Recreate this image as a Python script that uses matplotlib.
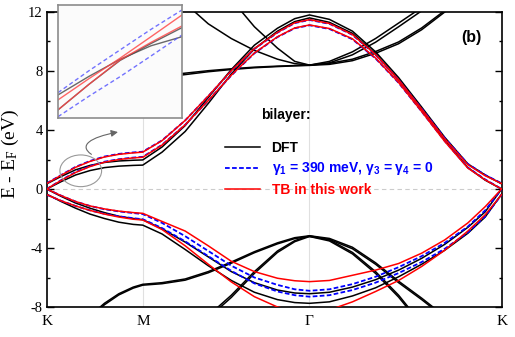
import matplotlib
matplotlib.use("Agg")
import matplotlib.pyplot as plt
from matplotlib.patches import Ellipse, FancyArrowPatch
from matplotlib.path import Path
from matplotlib.ticker import MultipleLocator

plt.rcParams["axes.unicode_minus"] = False
plt.rcParams["mathtext.fontset"] = "custom"
plt.rcParams["mathtext.rm"] = "Liberation Serif"
plt.rcParams["mathtext.it"] = "Liberation Serif:italic"
plt.rcParams["mathtext.bf"] = "Liberation Sans:bold"

# high symmetry points along K-M-Gamma-K (path length units)
k_K1, k_M, k_G, k_K2 = 0.0, 0.3333, 0.9107, 1.5774
sym_labels = ["K", "M", "Γ", "K"]

# common k grid for the pi bands
k_grid = [0.000, 0.050, 0.100, 0.150, 0.200, 0.250, 0.300, 0.333, 0.400, 0.480, 0.560, 0.640,
          0.720, 0.800, 0.860, 0.911, 0.980, 1.060, 1.140, 1.220, 1.300, 1.380, 1.460, 1.520, 1.577]

# pi* (conduction)
dft_c1 = [0.00, 0.50, 0.95, 1.25, 1.45, 1.55, 1.60, 1.62, 2.50, 3.90, 5.80, 7.80,
          9.50, 10.70, 11.35, 11.60, 11.30, 10.55, 9.15, 7.40, 5.40, 3.30, 1.45, 0.60, 0.00]
dft_c2 = [0.35, 0.85, 1.30, 1.60, 1.80, 1.90, 1.95, 1.97, 2.85, 4.30, 6.20, 8.10,
          9.75, 10.90, 11.55, 11.80, 11.50, 10.70, 9.30, 7.55, 5.55, 3.50, 1.70, 0.95, 0.35]
gam_c1 = [0.00, 0.60, 1.15, 1.55, 1.85, 2.02, 2.13, 2.18, 3.00, 4.35, 6.00, 7.70,
          9.20, 10.30, 10.90, 11.10, 10.85, 10.15, 8.85, 7.20, 5.25, 3.25, 1.45, 0.65, 0.00]
gam_c2 = [0.39, 0.95, 1.50, 1.90, 2.20, 2.38, 2.48, 2.53, 3.30, 4.65, 6.30, 8.00,
          9.50, 10.60, 11.25, 11.46, 11.20, 10.45, 9.10, 7.40, 5.45, 3.45, 1.70, 0.95, 0.39]
tb_c1 = [0.00, 0.58, 1.12, 1.52, 1.82, 2.00, 2.11, 2.15, 2.98, 4.35, 6.00, 7.72,
         9.22, 10.32, 10.92, 11.12, 10.88, 10.18, 8.88, 7.22, 5.25, 3.22, 1.42, 0.62, 0.00]
tb_c2 = [0.37, 0.93, 1.47, 1.87, 2.17, 2.35, 2.45, 2.50, 3.28, 4.65, 6.30, 8.02,
         9.52, 10.62, 11.27, 11.48, 11.22, 10.47, 9.12, 7.40, 5.42, 3.40, 1.65, 0.90, 0.37]

# pi (valence)
dft_v1 = [0.00, -0.50, -0.95, -1.30, -1.60, -1.85, -2.00, -2.08, -2.70, -3.60, -4.60, -5.60,
          -6.35, -6.85, -7.05, -7.10, -7.00, -6.65, -6.15, -5.50, -4.70, -3.75, -2.60, -1.55, 0.00]
dft_v2 = [-0.35, -0.85, -1.30, -1.70, -2.00, -2.25, -2.40, -2.45, -3.05, -4.10, -5.20, -6.20,
          -7.00, -7.50, -7.70, -7.75, -7.65, -7.25, -6.70, -5.95, -5.10, -4.15, -3.00, -1.90, -0.35]
gam_v1 = [0.00, -0.45, -0.85, -1.15, -1.37, -1.52, -1.63, -1.70, -2.30, -3.20, -4.20, -5.20,
          -6.00, -6.50, -6.80, -6.90, -6.80, -6.45, -5.95, -5.30, -4.55, -3.65, -2.55, -1.45, 0.00]
gam_v2 = [-0.39, -0.80, -1.15, -1.45, -1.68, -1.85, -1.98, -2.05, -2.65, -3.55, -4.55, -5.55,
          -6.40, -6.95, -7.20, -7.30, -7.20, -6.85, -6.35, -5.70, -4.95, -4.05, -2.95, -1.85, -0.39]
tb_v1 = [0.00, -0.45, -0.85, -1.15, -1.35, -1.50, -1.60, -1.65, -2.20, -2.85, -3.85, -4.90,
         -5.60, -6.05, -6.22, -6.28, -6.20, -5.85, -5.50, -5.05, -4.35, -3.45, -2.30, -1.20, 0.00]
tb_v2 = [-0.38, -0.80, -1.15, -1.45, -1.70, -1.90, -2.05, -2.10, -2.75, -3.85, -5.10, -6.30,
         -7.30, -8.00, -8.25, -8.30, -8.20, -7.65, -6.95, -6.20, -5.25, -4.15, -2.85, -1.75, -0.38]

# sigma bands (DFT only)
s1_k = [0.150, 0.200, 0.250, 0.300, 0.333, 0.400, 0.480, 0.560, 0.640, 0.720, 0.800, 0.860,
        0.911, 0.980, 1.060, 1.140, 1.220, 1.300, 1.339, 1.380]
s1a = [-8.60, -7.75, -7.10, -6.65, -6.46, -6.35, -6.10, -5.60, -4.95, -4.25, -3.65, -3.30,
       -3.17, -3.35, -3.95, -5.00, -6.25, -7.40, -8.00, -8.70]
s1b = [-8.70, -7.85, -7.18, -6.72, -6.52, -6.42, -6.18, -5.68, -5.03, -4.32, -3.72, -3.36,
       -3.22, -3.42, -4.05, -5.10, -6.35, -7.50, -8.10, -8.80]
s2_k = [0.560, 0.594, 0.640, 0.720, 0.800, 0.860, 0.911, 0.980, 1.060, 1.140, 1.220, 1.253, 1.300]
s2a = [-8.70, -8.00, -7.20, -5.60, -4.20, -3.50, -3.17, -3.45, -4.30, -5.60, -7.20, -8.00, -9.00]
s2b = [-8.85, -8.15, -7.35, -5.72, -4.30, -3.57, -3.22, -3.52, -4.40, -5.72, -7.33, -8.12, -9.10]

# upper bands (DFT only)
u1_k = [0.254, 0.358, 0.469, 0.560, 0.640, 0.720, 0.800, 0.860, 0.911, 0.980, 1.060, 1.140,
        1.220, 1.300, 1.380, 1.433]
u1a = [7.35, 7.55, 7.73, 7.95, 8.10, 8.22, 8.30, 8.35, 8.38, 8.45, 8.70, 9.20,
       9.85, 10.80, 12.00, 12.80]
u1b = [7.45, 7.65, 7.83, 8.02, 8.15, 8.26, 8.33, 8.37, 8.40, 8.52, 8.80, 9.32,
       9.97, 10.92, 12.10, 12.90]
u2_k = [0.640, 0.677, 0.720, 0.800, 0.860, 0.911, 0.980, 1.060, 1.140, 1.220, 1.277, 1.329]
u2 = [12.80, 12.00, 11.00, 9.55, 8.65, 8.40, 8.65, 9.30, 10.20, 11.25, 12.00, 12.80]
u3_k = [0.479, 0.514, 0.560, 0.640, 0.720, 0.800, 0.860, 0.911, 0.980, 1.060, 1.140, 1.220,
        1.294, 1.336]
u3 = [12.60, 12.00, 11.20, 10.20, 9.40, 8.80, 8.50, 8.40, 8.55, 9.10, 9.95, 11.00, 12.00, 12.60]

# inset: zoom near K
ins_k = [0.04, 0.07, 0.10, 0.13, 0.16]
ins_gam1 = [0.726, 0.920, 1.103, 1.285, 1.456]
ins_gam2 = [0.514, 0.695, 0.867, 1.050, 1.235]
ins_tb1 = [0.662, 0.850, 1.030, 1.220, 1.412]
ins_tb2 = [0.574, 0.800, 1.015, 1.170, 1.315]
ins_dft1 = [0.706, 0.870, 1.020, 1.140, 1.220]
ins_dft2 = [0.574, 0.800, 1.010, 1.160, 1.300]

labels = ["DFT", r"$\mathbf{\gamma_1}$ = 390 meV, $\mathbf{\gamma_3}$ = $\mathbf{\gamma_4}$ = 0",
          "TB in this work"]

black, blue, red = "#000000", "#0000ff", "#ff0000"
dash = (0, (2.6, 1.3))

fig = plt.figure(figsize=(5.15, 3.37), dpi=100)
ax = fig.add_axes([0.0907, 0.089, 0.8835, 0.8754])

ax.axvline(k_M, color="#e0e0e0", lw=0.8, zorder=0)
ax.axvline(k_G, color="#e0e0e0", lw=0.8, zorder=0)
ax.axhline(0, color="#cccccc", lw=0.8, ls=(0, (4, 3)), zorder=0)

for kk, ee in [(s1_k, s1a), (s1_k, s1b), (s2_k, s2a), (s2_k, s2b),
               (u1_k, u1a), (u1_k, u1b), (u2_k, u2), (u3_k, u3)]:
    ax.plot(kk, ee, color=black, lw=1.1, zorder=2)

h_dft = None
for ee in [dft_c1, dft_c2, dft_v1, dft_v2]:
    h_dft, = ax.plot(k_grid, ee, color=black, lw=1.1, zorder=2)
h_gam = None
for ee in [gam_c1, gam_c2, gam_v1, gam_v2]:
    h_gam, = ax.plot(k_grid, ee, color=blue, lw=1.3, ls=dash, zorder=3)
h_tb = None
for ee in [tb_c1, tb_c2, tb_v1, tb_v2]:
    h_tb, = ax.plot(k_grid, ee, color=red, lw=1.1, zorder=4)

ax.set_xlim(k_K1, k_K2)
ax.set_ylim(-8, 12)
ax.set_xticks([k_K1, k_M, k_G, k_K2])
ax.set_xticklabels(sym_labels, family="Liberation Serif", size=11)
ax.yaxis.set_major_locator(MultipleLocator(4))
ax.yaxis.set_minor_locator(MultipleLocator(2))
ax.tick_params(axis="x", length=0, pad=6)
ax.tick_params(axis="y", which="both", direction="in", right=True, width=1, pad=3)
ax.tick_params(axis="y", which="major", length=5)
ax.tick_params(axis="y", which="minor", length=2.5)
for lab in ax.get_yticklabels():
    lab.set_family("Liberation Serif")
    lab.set_size(10.5)
for sp in ax.spines.values():
    sp.set_linewidth(1.2)

ax.set_ylabel(r"E - E$_\mathrm{F}$ (eV)", family="Liberation Serif", size=14)
ax.yaxis.set_label_coords(-0.056, 0.52)

ax.legend([h_dft, h_gam, h_tb], labels, loc="upper left", bbox_to_anchor=(0.392, 0.562),
          frameon=False, borderpad=0, borderaxespad=0, handlelength=2.5, handletextpad=0.85,
          labelspacing=0.38, labelcolor=[black, blue, red],
          prop={"family": "Liberation Sans", "weight": "bold", "size": 10})
ax.text(0.526, 0.651, "bilayer:", transform=ax.transAxes, ha="center", va="center",
        family="Liberation Sans", weight="bold", size=10)
ax.text(0.934, 0.9136, "(b)", transform=ax.transAxes, ha="center", va="center",
        family="Liberation Sans", weight="bold", size=11.5)

# circle around the zoomed region and the curved pointer to the inset
ax.add_patch(Ellipse((0.118, 1.234), 0.1446, 2.15, fill=False, ec="#999999", lw=0.8, zorder=5))
arrow_path = Path([(0.155, 2.35), (0.110, 2.95), (0.150, 3.50), (0.247, 3.86)],
                  [Path.MOVETO, Path.CURVE4, Path.CURVE4, Path.CURVE4])
ax.add_patch(FancyArrowPatch(path=arrow_path, arrowstyle="-|>,head_length=4,head_width=2",
                             color="#666666", lw=0.8, zorder=5))

# inset
axi = fig.add_axes([0.1126, 0.649, 0.2408, 0.3362])
axi.set_facecolor("#fbfbfb")
for ee in [ins_dft1, ins_dft2]:
    axi.plot(ins_k, ee, color="#444444", lw=1.0, alpha=0.8)
for ee in [ins_gam1, ins_gam2]:
    axi.plot(ins_k, ee, color="#5050ff", lw=1.0, ls=(0, (3, 2)), alpha=0.8)
for ee in [ins_tb1, ins_tb2]:
    axi.plot(ins_k, ee, color="#ff4040", lw=1.0, alpha=0.8)
axi.set_xlim(0.04, 0.16)
axi.set_ylim(0.5, 1.5)
axi.set_xticks([])
axi.set_yticks([])
for sp in axi.spines.values():
    sp.set_color("#8c8c8c")
    sp.set_linewidth(1.2)

fig.savefig("out.png", dpi=100)
